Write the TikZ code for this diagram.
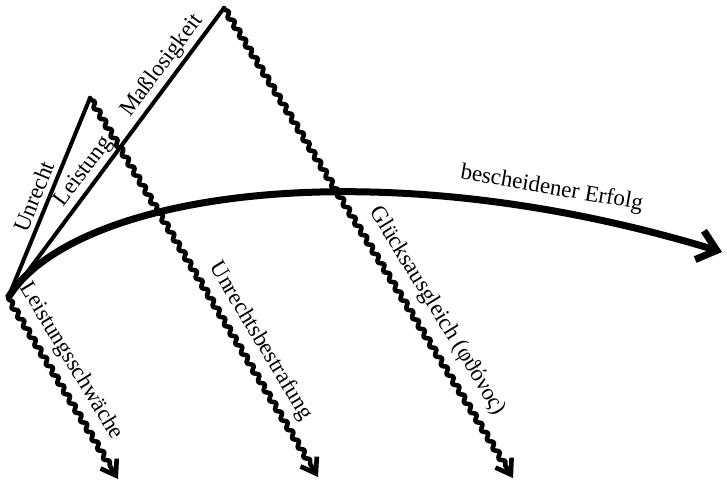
\documentclass[tikz,border=0pt]{standalone}
\usepackage{fontspec}
\setmainfont{Liberation Serif}
\usepackage{tikz}
\usetikzlibrary{arrows.meta,decorations.pathmorphing,positioning}

\begin{document}
\begin{tikzpicture}[x=0.5pt,y=-0.5pt]

\tikzset{straightLine/.style={line width=2pt, line cap=round, line join=round},
wavyArrow/.style={line width=2.3pt, line cap=round, line join=round, -{Straight Barb[length=7pt,width=9.5pt]},
   decorate, decoration={snake, amplitude=1.1pt, segment length=5.5pt, pre length=1pt, post length=6pt}},
bigArrow/.style={line width=3.5pt, -{Straight Barb[length=9pt,width=15pt]}},
lbl/.style={font=\fontsize{11.5}{13}\selectfont, sloped, inner sep=2pt}}

\useasboundingbox (0,0) rectangle (727,484);

% start point and the two peaks
\coordinate (start) at (8,298);
\coordinate (unrechtTop) at (90,98);
\coordinate (massTop) at (224,8);

% ends of the three falls
\coordinate (schwaecheEnd) at (118,479);
\coordinate (strafeEnd) at (318,477);
\coordinate (glueckEnd) at (513,478);
\coordinate (erfolgEnd) at (722,252);

\draw[straightLine] (start) -- (unrechtTop);
\draw[straightLine] (start) -- (massTop);

\draw[wavyArrow] (start) -- (schwaecheEnd);
\draw[wavyArrow] (unrechtTop) -- (strafeEnd);
\draw[wavyArrow] (massTop) -- (glueckEnd);

\draw[bigArrow] (start) .. controls (70,195) and (370,145) .. (erfolgEnd)
   node[lbl, pos=0.83, above=2pt] {bescheidener Erfolg};

%labels
\path (start) -- (unrechtTop) node[lbl, pos=0.48, above=1pt] {Unrecht};
\path (start) -- (massTop) node[lbl, pos=0.405, above] {Leistung};
\path (start) -- (massTop) node[lbl, pos=0.77, above] {Maßlosigkeit};

\path (start) -- (schwaecheEnd) node[lbl, pos=0.41, above=3pt] {Leistungsschwäche};
\path (unrechtTop) -- (strafeEnd) node[lbl, pos=0.67, above=3pt] {Unrechtsbestrafung};
\path (massTop) -- (glueckEnd) node[lbl, pos=0.67, above=4pt] {Glücksausgleich (φϑόνος)};

\end{tikzpicture}
\end{document}
